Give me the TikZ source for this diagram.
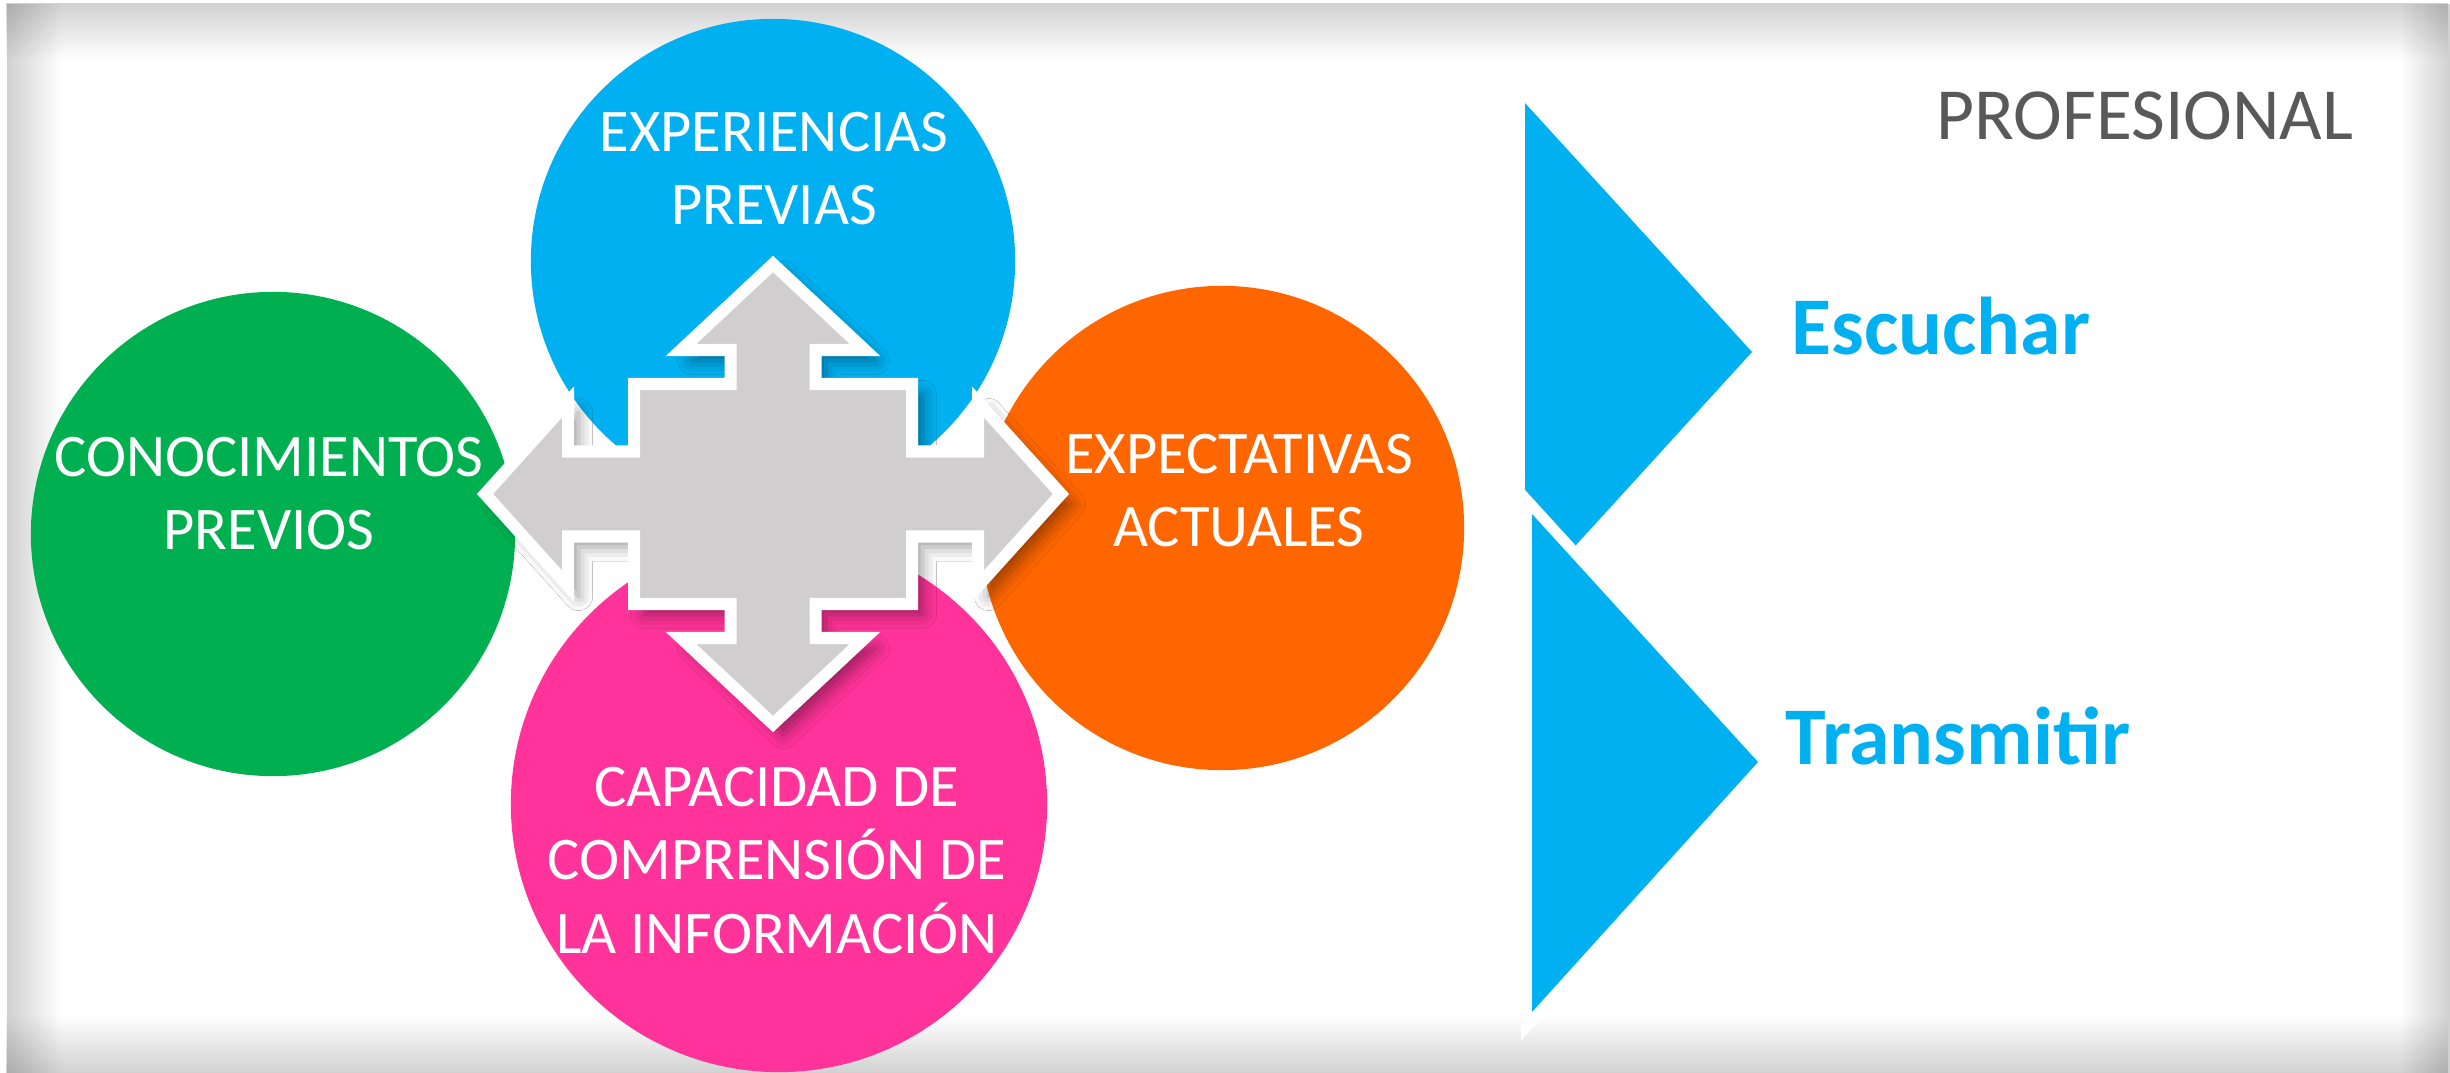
\documentclass[tikz,border=0pt]{standalone}
\usepackage{fontspec}
\setmainfont{Carlito}
\usetikzlibrary{shadows.blur, fadings}

\definecolor{verde}{HTML}{00B050}
\definecolor{azul}{HTML}{00B0F0}
\definecolor{naranja}{HTML}{FF6600}
\definecolor{rosa}{HTML}{FF3399}
\definecolor{gris}{HTML}{D0CECE}
\definecolor{grisosc}{HTML}{595959}

\tikzfading[name=fadeRight, left color=transparent!0, middle color=transparent!75, right color=transparent!100]
\tikzfading[name=fadeLeft, left color=transparent!100, middle color=transparent!75, right color=transparent!0]
\tikzfading[name=fadeDown, top color=transparent!0, middle color=transparent!75, bottom color=transparent!100]
\tikzfading[name=fadeUp, top color=transparent!100, middle color=transparent!75, bottom color=transparent!0]

\tikzset{
  circulo/.style={circle, inner sep=0pt, minimum size=4.84cm},
  etiqueta/.style={text=white, align=center, inner sep=0pt, anchor=base,
    font=\fontsize{17.2}{20.8}\selectfont},
  accion/.style={text=azul, inner sep=0pt, anchor=base west,
    font=\fontsize{23.3}{28}\selectfont\bfseries},
  sombra/.style={black, fill opacity=0.18},
}

\begin{document}
\begin{tikzpicture}[x=0.01cm, y=-0.01cm]
    \useasboundingbox (0,0) rectangle (2450,1073);

    % Panel with soft inner shadow
    \fill[white] (0,0) rectangle (2450,1073);
    \fill[sombra, path fading=fadeRight] (7,3) rectangle (62,1073);
    \fill[sombra, path fading=fadeDown] (7,3) rectangle (2450,60);
    \fill[sombra, path fading=fadeLeft] (2400,3) rectangle (2450,1073);
    \fill[sombra, path fading=fadeUp] (7,1015) rectangle (2450,1073);

    % Draw the four circles
    \node[circulo, fill=verde] (conoc) at (273,534) {};
    \node[circulo, fill=azul] (exper) at (773,261) {};
    \node[circulo, fill=naranja] (expec) at (1222,528) {};
    \node[circle, inner sep=0pt, minimum size=5.36cm, fill=rosa] (capac) at (779,804) {};

    % Four-way arrow in the middle
    \begin{scope}[shift={(773,494)}]
        \filldraw[fill=gris, draw=white, line width=0.12cm, line join=miter,
            blur shadow={shadow xshift=3pt, shadow yshift=-3pt, shadow blur radius=4pt, shadow opacity=40}]
            (0,-230) -- (92,-144) -- (42.5,-144) -- (42.5,-110) -- (139,-110) -- (139,-42.5)
            -- (205,-42.5) -- (205,-92) -- (288,0) -- (205,92) -- (205,42.5) -- (139,42.5)
            -- (139,110) -- (42.5,110) -- (42.5,144) -- (92,144) -- (0,230) -- (-92,144)
            -- (-42.5,144) -- (-42.5,110) -- (-139,110) -- (-139,42.5) -- (-205,42.5) -- (-205,92)
            -- (-288,0) -- (-205,-92) -- (-205,-42.5) -- (-139,-42.5) -- (-139,-110) -- (-42.5,-110)
            -- (-42.5,-144) -- (-92,-144) -- cycle;
    \end{scope}

    % Circle labels (base = last line)
    \node[etiqueta] (conocTxt) at (269,550) {CONOCIMIENTOS\\PREVIOS};
    \node[etiqueta] (experTxt) at (774,225) {EXPERIENCIAS\\PREVIAS};
    \node[etiqueta] (expecTxt) at (1239,547) {EXPECTATIVAS\\ACTUALES};
    \node[etiqueta] (capacTxt) at (777,953) {CAPACIDAD DE\\COMPRENSIÓN DE\\LA INFORMACIÓN};

    % Right side: two chevrons
    \fill[azul] (1525,103) -- (1752,352) -- (1525,601) -- cycle;
    \fill[azul, preaction={draw=white, line width=0.22cm, line join=miter}]
        (1532,514) -- (1758,762) -- (1532,1012) -- cycle;

    \node[inner sep=0pt, anchor=base, text=grisosc, font=\fontsize{20.9}{25}\selectfont] (prof) at (2145,140) {PROFESIONAL};
    \node[accion] (escu) at (1791,355) {Escuchar};
    \node[accion] (trans) at (1785,764) {Transmitir};
\end{tikzpicture}
\end{document}
